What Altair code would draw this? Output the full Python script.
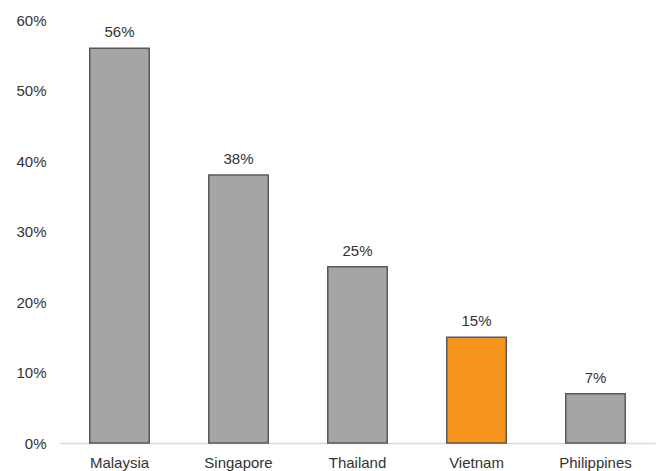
import altair as alt
import pandas as pd

countries = ["Malaysia", "Singapore", "Thailand", "Vietnam", "Philippines"]
shares = [0.56, 0.38, 0.25, 0.15, 0.07]
highlight = ["other", "other", "other", "focus", "other"]

df = pd.DataFrame({"country": countries, "share": shares, "group": highlight})

font = "Liberation Sans"
text_color = "#333333"

base = alt.Chart(df).encode(
    x=alt.X(
        "country:N",
        sort=countries,
        title=None,
        scale=alt.Scale(paddingInner=0.5, paddingOuter=0.25),
        axis=alt.Axis(
            labelAngle=0,
            labelFont=font,
            labelFontSize=15,
            labelColor=text_color,
            labelPadding=12,
            ticks=False,
            grid=False,
            domainColor="#d9d9d9",
            domainWidth=1.5,
        ),
    ),
    y=alt.Y(
        "share:Q",
        title=None,
        scale=alt.Scale(domain=[0, 0.6], nice=False),
        axis=alt.Axis(
            format=".0%",
            values=[0, 0.1, 0.2, 0.3, 0.4, 0.5, 0.6],
            labelFont=font,
            labelFontSize=15,
            labelColor=text_color,
            labelPadding=14,
            ticks=False,
            domain=False,
            grid=False,
        ),
    ),
)

bars = base.mark_bar(stroke="#595959", strokeWidth=1.5).encode(
    color=alt.Color(
        "group:N",
        scale=alt.Scale(domain=["other", "focus"], range=["#a5a5a5", "#f7941d"]),
        legend=None,
    )
)

labels = base.mark_text(
    baseline="bottom", dy=-8, font=font, fontSize=15, color=text_color
).encode(text=alt.Text("share:Q", format=".0%"))

chart = (
    (bars + labels)
    .properties(
        width=595,
        height=423,
        background="white",
        autosize=alt.AutoSizeParams(type="none"),
        padding={"left": 60, "top": 20, "right": 7, "bottom": 28},
    )
    .configure_view(strokeWidth=0)
    .configure_axis(grid=False)
)

chart.save("out.html", embed_options={"renderer": "svg", "actions": False})
